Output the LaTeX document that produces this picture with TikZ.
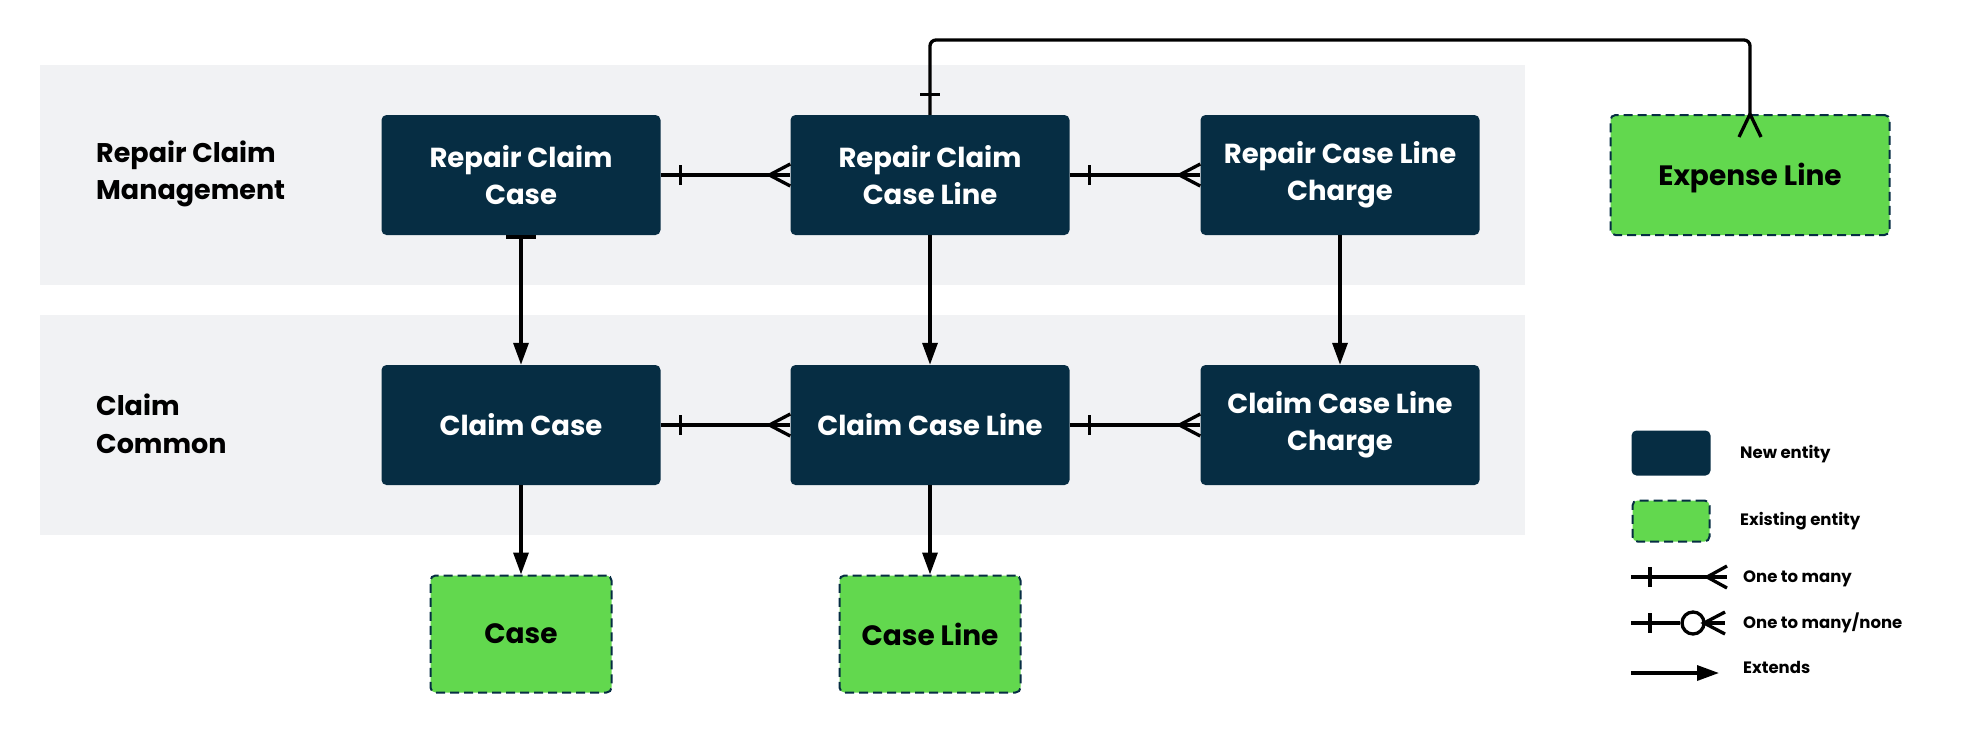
\documentclass[tikz,border=0pt]{standalone}
\usepackage{fontspec}
\setmainfont{Poppins}
\usetikzlibrary{arrows.meta,calc}
\definecolor{navy}{HTML}{062D43}
\definecolor{exgreen}{HTML}{62D84E}
\definecolor{band}{HTML}{F1F2F4}
\begin{document}
\begin{tikzpicture}[x=1pt,y=-1pt,
  newent/.style={draw=none,fill=navy,rounded corners=5pt,text=white,font=\fontsize{27.5}{37}\selectfont\bfseries,align=center,minimum width=279pt,minimum height=120pt,inner sep=0pt},
  oldent/.style={draw=navy,line width=2pt,dash pattern=on 9pt off 5pt,fill=exgreen,rounded corners=5pt,text=black,font=\fontsize{28}{37}\selectfont\bfseries,align=center,minimum height=117pt,inner sep=0pt},
  grp/.style={font=\fontsize{27}{37.5}\selectfont\bfseries,align=left,anchor=west,inner sep=0pt},
  conn/.style={line width=3.3pt,draw=black},
  ext/.style={conn,-{Triangle[length=22pt,width=15pt]}},
  leg/.style={font=\fontsize{16.5}{20}\selectfont\bfseries,anchor=west,inner sep=0pt}
]
\useasboundingbox (0,0) rectangle (1972,732);
% bands
\fill[band] (40,65) rectangle (1525,285);
\fill[band] (40,315) rectangle (1525,535);
\node[grp] (g1) at (96,174) {Repair Claim\\Management};
\node[grp] (g2) at (96,424) {Claim\\Common};
% entities
\node[newent] (rcc) at (521,175) {Repair Claim\\Case};
\node[newent] (rccl) at (930,175) {Repair Claim\\Case Line};
\node[newent] (rclc) at (1340,175) {Repair Case Line\\Charge};
\node[newent] (cc) at (521,425) {Claim Case};
\node[newent] (ccl) at (930,425) {Claim Case Line};
\node[newent] (cclc) at (1340,425) {Claim Case Line\\Charge};
\node[oldent,minimum width=279pt,minimum height=120pt,text height=20pt,text depth=0pt] (exp) at (1750,175) {Expense Line};
\node[oldent,minimum width=181pt] (case) at (521,634) {Case};
\node[oldent,minimum width=181pt] (cline) at (930,634) {Case Line};
% horizontal one-to-many connectors
\foreach \a/\b in {rcc/rccl,rccl/rclc,cc/ccl,ccl/cclc}{
  \draw[conn] (\a.east) -- (\b.west);
  \draw[conn] ([xshift=20pt,yshift=-10pt]\a.east) -- ([xshift=20pt,yshift=10pt]\a.east);
  \draw[conn] ([yshift=-11pt]\b.west) -- ([xshift=-21pt]\b.west) -- ([yshift=11pt]\b.west);
}
% top connector to expense line
\coordinate (top) at (0,40);
\draw[conn,rounded corners=6pt] (rccl.north) -- (rccl.north |- top) -- (exp.north |- top) -- (exp.north);
\draw[conn] ([xshift=-10pt,yshift=20pt]rccl.north) -- ([xshift=10pt,yshift=20pt]rccl.north);
\draw[conn] ([xshift=-11pt,yshift=-23pt]exp.north) -- (exp.north);
\draw[conn] ([xshift=11pt,yshift=-23pt]exp.north) -- (exp.north);
% extends arrows
\draw[ext] (rcc.south) -- (cc.north);
\draw[line width=4pt] ([xshift=-15pt,yshift=-2pt]rcc.south) -- ([xshift=15pt,yshift=-2pt]rcc.south);
\draw[ext] (rccl.south) -- (ccl.north);
\draw[ext] (rclc.south) -- (cclc.north);
\draw[ext] (cc.south) -- (case.north);
\draw[ext] (ccl.south) -- (cline.north);
% legend
\node[newent,minimum width=79pt,minimum height=45pt] (lnew) at (1671,453) {};
\node[oldent,minimum width=77pt,minimum height=41pt] (lold) at (1671,521) {};
\node[leg] (tnew) at (1740,454) {New entity};
\node[leg] (told) at (1740,521) {Existing entity};
\coordinate (l1a) at (1631,577);
\coordinate (l1b) at (1727,577);
\draw[conn] (l1a) -- (l1b);
\draw[conn] ($(l1a)+(19,-10)$) -- ($(l1a)+(19,10)$);
\draw[conn] ($(l1b)+(0,-11)$) -- ($(l1b)+(-20,0)$) -- ($(l1b)+(0,11)$);
\node[leg] (t1) at (1743,579) {One to many};
\coordinate (l2a) at (1631,623);
\coordinate (l2b) at (1725,623);
\node[circle,draw,line width=3.3pt,minimum size=22pt,inner sep=0pt] (circ) at (1693,623) {};
\draw[conn] (l2a) -- (circ.west);
\draw[conn] (circ.east) -- (l2b);
\draw[conn] ($(l2a)+(19,-10)$) -- ($(l2a)+(19,10)$);
\draw[conn] ($(l2b)+(0,-11)$) -- ($(l2b)+(-21,0)$) -- ($(l2b)+(0,11)$);
\node[leg] (t2) at (1743,623) {One to many/none};
\coordinate (l3a) at (1631,673);
\coordinate (l3b) at (1719,673);
\draw[ext] (l3a) -- (l3b);
\node[leg] (t3) at (1743,667) {Extends};
\end{tikzpicture}
\end{document}
